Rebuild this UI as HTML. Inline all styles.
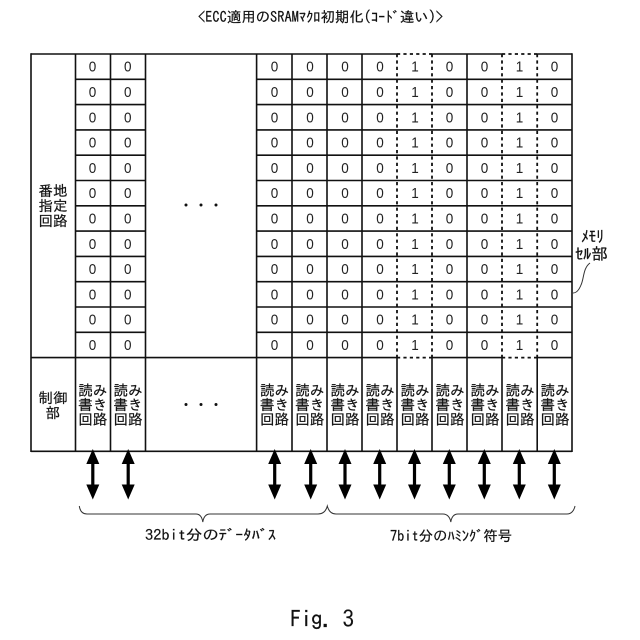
<!DOCTYPE html>
<html><head><meta charset="utf-8"><style>
html,body{margin:0;padding:0;background:#fff}
svg{display:block}
text{fill:#111;font-family:"IPAGothic","Noto Sans CJK JP",sans-serif;stroke:#111;stroke-width:.2}
.d text{font-family:"Liberation Sans",sans-serif;font-size:15px;text-anchor:middle;fill:#222;stroke:none}
.j{font-size:14.5px;text-anchor:middle}
</style></head><body>
<svg width="640" height="640" viewBox="0 0 640 640" xmlns="http://www.w3.org/2000/svg">
<defs>
<g id="a"><path d="M0 449L6.5 464H-6.5ZM0 499.5L6.5 484.5H-6.5Z" fill="#000"/><path d="M0 460V488" stroke="#000" stroke-width="3.2"/></g>
<g id="r"><text class="j" x="0" y="395.5">読み</text><text class="j" x="0" y="410">書き</text><text class="j" x="0" y="424.5">回路</text></g>
</defs>
<text x="198" y="22" font-size="14.4" textLength="245" lengthAdjust="spacingAndGlyphs">&lt;ECC適用のSRAMﾏｸﾛ初期化(ｺｰﾄﾞ違い)&gt;</text>
<g stroke="#111" stroke-width="1.6" fill="none">
<path d="M31 54H397M432 54H502M537 54H572M31 357.6H397M432 357.6H502M537 357.6H572M31 451.3H572"/>
<path d="M31 53.3V452M75.5 54V451.5M110.5 54V451.5M145.5 54V451.5M256.6 54V451.5M292 54V451.5M327 54V451.5M362 54V451.5M467 54V451.5M572 53.3V452M397 357.6V451.5M432 357.6V451.5M502 357.6V451.5M537.2 357.6V451.5"/>
<path d="M75.5 79.3H145.5M75.5 104.6H145.5M75.5 129.9H145.5M75.5 155.2H145.5M75.5 180.5H145.5M75.5 205.8H145.5M75.5 231.1H145.5M75.5 256.4H145.5M75.5 281.7H145.5M75.5 307H145.5M75.5 332.3H145.5"/>
<path d="M256.6 79.3H572M256.6 104.6H572M256.6 129.9H572M256.6 155.2H572M256.6 180.5H572M256.6 205.8H572M256.6 231.1H572M256.6 256.4H572M256.6 281.7H572M256.6 307H572M256.6 332.3H572"/>
</g>
<g stroke="#111" stroke-width="1.8" fill="none" stroke-dasharray="3.2 3.2">
<path d="M397 54H432M502 54H537M397 357.6H432M502 357.6H537"/>
<path d="M397 54V357.6M432 54V357.6M502 54V357.6M537.2 54V357.6"/>
</g>
<g class="d" transform="scale(.9 1)">
<text x="102.8 141.9 305 344.4 383.3 422.2 461.1 499.4 538.3 577.2 616.1" y="71.7">00000010010</text>
<text x="102.8 141.9 305 344.4 383.3 422.2 461.1 499.4 538.3 577.2 616.1" y="97">00000010010</text>
<text x="102.8 141.9 305 344.4 383.3 422.2 461.1 499.4 538.3 577.2 616.1" y="122.3">00000010010</text>
<text x="102.8 141.9 305 344.4 383.3 422.2 461.1 499.4 538.3 577.2 616.1" y="147.6">00000010010</text>
<text x="102.8 141.9 305 344.4 383.3 422.2 461.1 499.4 538.3 577.2 616.1" y="172.9">00000010010</text>
<text x="102.8 141.9 305 344.4 383.3 422.2 461.1 499.4 538.3 577.2 616.1" y="198.2">00000010010</text>
<text x="102.8 141.9 305 344.4 383.3 422.2 461.1 499.4 538.3 577.2 616.1" y="223.5">00000010010</text>
<text x="102.8 141.9 305 344.4 383.3 422.2 461.1 499.4 538.3 577.2 616.1" y="248.8">00000010010</text>
<text x="102.8 141.9 305 344.4 383.3 422.2 461.1 499.4 538.3 577.2 616.1" y="274.1">00000010010</text>
<text x="102.8 141.9 305 344.4 383.3 422.2 461.1 499.4 538.3 577.2 616.1" y="299.4">00000010010</text>
<text x="102.8 141.9 305 344.4 383.3 422.2 461.1 499.4 538.3 577.2 616.1" y="324.7">00000010010</text>
<text x="102.8 141.9 305 344.4 383.3 422.2 461.1 499.4 538.3 577.2 616.1" y="350">00000010010</text>
</g>
<text class="j" x="53" y="196">番地</text>
<text class="j" x="53" y="211">指定</text>
<text class="j" x="53" y="226">回路</text>
<text class="j" x="53" y="403">制御</text>
<text class="j" x="53" y="418">部</text>
<g fill="#111">
<circle cx="186" cy="205" r="1.5"/><circle cx="201" cy="205" r="1.5"/><circle cx="216" cy="205" r="1.5"/>
<circle cx="186" cy="404.5" r="1.5"/><circle cx="201" cy="404.5" r="1.5"/><circle cx="216" cy="404.5" r="1.5"/>
</g>
<use href="#r" x="92.8"/><use href="#r" x="128"/><use href="#r" x="274.5"/><use href="#r" x="309.8"/><use href="#r" x="345"/><use href="#r" x="380"/><use href="#r" x="415"/><use href="#r" x="450"/><use href="#r" x="485"/><use href="#r" x="520"/><use href="#r" x="555"/>
<use href="#a" x="92.8"/><use href="#a" x="128.2"/><use href="#a" x="274.7"/><use href="#a" x="310.7"/><use href="#a" x="345"/><use href="#a" x="379.7"/><use href="#a" x="414.5"/><use href="#a" x="449.3"/><use href="#a" x="484.3"/><use href="#a" x="519.3"/><use href="#a" x="554.3"/>
<path d="M79.3 506C80 511 82 514 87 514H196C200 514 202 517 202.8 522C203.6 517 206 514 210 514H318C323 514 326 511 327.3 506C328.6 511 331 514 336 514H443C447 514 450 517 450.8 522C451.6 517 454 514 458 514H567C571 514 574 511 575 506" fill="none" stroke="#333" stroke-width="1"/>
<path d="M590 263C583 268 584 279 581 285C579 290 576 293 573 293" fill="none" stroke="#333" stroke-width="1"/>
<text x="581" y="242" font-size="16" textLength="23" lengthAdjust="spacingAndGlyphs">ﾒﾓﾘ</text>
<text x="575" y="259.5" font-size="16" textLength="33" lengthAdjust="spacingAndGlyphs">ｾﾙ部</text>
<text x="145" y="540" font-size="14.5" textLength="131" lengthAdjust="spacingAndGlyphs">32bit分のﾃﾞｰﾀﾊﾞｽ</text>
<text x="390" y="541" font-size="14.5" textLength="122" lengthAdjust="spacingAndGlyphs">7bit分のﾊﾐﾝｸﾞ符号</text>
<text x="290" y="627" font-size="23" textLength="64" lengthAdjust="spacing">Fig. 3</text>
</svg>
</body></html>
